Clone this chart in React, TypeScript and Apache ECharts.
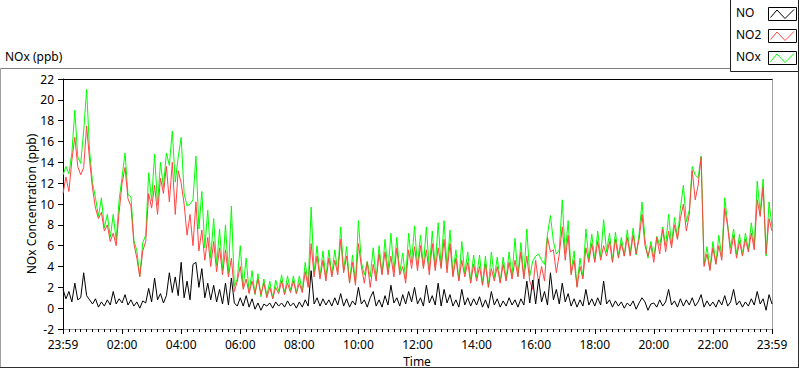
import React, { useEffect, useRef } from "react";
import * as echarts from "echarts";

// Sample step in minutes from the 23:59 start
const STEP_MIN = 6;

const xTickLabels = [
  "23:59", "02:00", "04:00", "06:00", "08:00", "10:00", "12:00",
  "14:00", "16:00", "18:00", "20:00", "22:00", "23:59",
];

const yTicks = { min: -2, max: 22, interval: 2 };

const seriesNames = ["NO", "NO2", "NOx"];

// NO2 (ppb), one value every 6 minutes
const NO2 = [
  11.0, 12.6, 11.2, 14.2, 16.4, 13.6, 12.8, 13.5, 17.5, 14.2,
  11.5, 9.6, 8.6, 9.2, 7.4, 8.0, 6.4, 7.2, 6.0, 9.2,
  12.0, 13.5, 10.5, 9.8, 6.2, 4.8, 3.0, 5.5, 6.4, 11.0,
  9.6, 11.8, 9.0, 12.5, 11.0, 13.6, 10.2, 14.0, 9.0, 13.2,
  12.0, 10.0, 7.0, 9.0, 6.0, 10.2, 5.5, 7.5, 4.6, 6.8,
  4.0, 6.4, 3.5, 5.8, 3.2, 5.6, 3.0, 4.8, 1.6, 2.6,
  4.0, 1.8, 2.8, 1.4, 2.6, 1.4, 2.8, 1.3, 2.4, 1.0,
  2.0, 0.9, 2.0, 1.4, 2.6, 1.3, 2.4, 1.5, 2.6, 1.4,
  2.4, 1.5, 3.5, 2.0, 6.2, 3.0, 5.0, 2.8, 4.6, 2.6,
  4.8, 3.0, 4.6, 3.2, 6.6, 3.4, 5.0, 2.4, 4.4, 2.2,
  6.2, 4.0, 2.4, 4.4, 2.0, 4.2, 2.6, 5.2, 3.2, 5.4,
  3.2, 5.0, 3.0, 5.8, 3.2, 4.0, 2.4, 5.6, 3.8, 5.9,
  3.6, 6.0, 3.8, 5.6, 3.2, 6.2, 3.6, 5.8, 3.8, 6.6,
  3.4, 6.2, 3.0, 4.8, 2.6, 4.6, 3.0, 4.4, 2.4, 4.2,
  2.6, 4.0, 2.2, 4.2, 2.0, 3.8, 2.6, 4.0, 2.4, 4.2,
  2.6, 4.4, 2.8, 4.6, 3.0, 5.4, 2.8, 5.0, 2.6, 1.8,
  4.6, 2.4, 4.0, 2.6, 6.8, 5.4, 5.6, 3.4, 5.2, 7.8,
  4.6, 7.0, 3.2, 4.6, 2.0, 4.0, 2.8, 5.8, 4.4, 6.2,
  4.4, 6.4, 4.6, 6.0, 5.0, 6.4, 4.4, 6.6, 4.8, 6.2,
  5.0, 6.8, 5.0, 7.0, 5.2, 6.6, 9.0, 6.0, 5.0, 6.0,
  4.4, 6.8, 5.2, 7.6, 5.4, 7.4, 5.8, 8.0, 6.6, 8.6,
  10.0, 7.4, 9.0, 13.2, 10.4, 11.8, 14.5, 4.0, 5.2, 3.6,
  5.8, 4.2, 6.0, 4.6, 9.6, 7.8, 5.2, 7.0, 4.8, 6.4,
  5.0, 6.6, 5.4, 7.2, 5.6, 10.4, 8.8, 11.6, 5.2, 8.6,
  7.4,
];

// NO (ppb)
const NO = [
  1.8, 0.9, 1.6, 0.6, 2.4, 0.8, 1.0, 3.4, 1.2, 0.8,
  0.4, 0.9, 0.1, 0.6, 0.2, 0.8, 0.3, 1.6, 0.4, 0.9,
  0.5, 1.3, 0.3, 0.8, 0.2, 0.6, 0.0, 0.7, 0.5, 1.9,
  0.6, 2.9, 0.8, 1.4, 0.5, 1.2, 3.4, 1.5, 3.0, 1.2,
  4.4, 1.0, 2.6, 0.8, 4.2, 4.4, 2.0, 3.8, 1.0, 2.4,
  0.8, 2.2, 0.6, 1.8, 0.4, 2.4, 0.3, 2.9, 0.5, 0.2,
  1.0, 0.2, 1.2, 0.1, 0.9, -0.1, 0.5, -0.2, 0.4, 0.2,
  0.5, 0.0, 0.6, 0.2, 0.5, 0.1, 0.7, 0.2, 0.5, 0.0,
  0.6, 0.1, 0.8, 0.2, 3.6, 0.4, 1.0, 0.2, 0.9, 0.3,
  0.8, 0.2, 1.0, 0.3, 1.4, 0.2, 0.9, 0.1, 0.7, 0.3,
  2.0, 0.4, 0.8, 0.1, 1.0, 1.6, 0.2, 0.8, 0.1, 1.2,
  0.3, 2.2, 0.5, 1.0, 0.2, 1.3, 0.4, 1.6, 0.6, 2.0,
  0.4, 1.0, 0.2, 2.2, 0.5, 1.2, 0.3, 2.4, 0.2, 1.8,
  0.5, 1.3, 0.2, 0.8, 0.1, 1.8, 0.3, 1.0, 0.2, 0.9,
  0.3, 1.1, 0.1, 0.8, 0.0, 1.6, 0.3, 0.9, 0.1, 0.7,
  0.2, 1.0, 0.3, 0.8, 0.1, 0.9, 0.3, 2.6, 0.5, 2.7,
  0.4, 2.8, 0.6, 1.6, 0.3, 3.4, 0.8, 1.8, 0.4, 2.4,
  0.6, 1.4, 0.2, 0.9, 0.1, 0.8, 0.2, 1.8, 0.3, 0.9,
  0.2, 1.0, 0.3, 2.6, 0.4, 0.8, 0.1, 0.7, 0.2, 0.6,
  0.0, 0.5, 0.2, 0.7, -0.1, 0.5, 1.0, 0.6, -0.2, 0.4,
  0.5, 0.1, 0.8, 0.2, 0.6, 1.8, 0.3, 0.7, 0.1, 0.9,
  0.2, 0.8, 0.3, 1.0, 0.2, 0.6, 1.3, 0.1, 0.7, 0.2,
  0.6, 0.1, 0.8, 0.3, 1.2, 0.2, 0.6, 1.8, 0.3, 0.7,
  0.1, 0.6, 0.2, 0.9, 0.3, 1.6, 0.4, 0.9, -0.2, 1.3,
  0.4,
];

// NOx (ppb)
const NOX = [
  12.8, 13.6, 12.9, 14.9, 19.0, 14.5, 13.9, 17.0, 21.0, 15.1,
  12.0, 10.6, 8.8, 10.6, 7.7, 9.0, 6.8, 9.0, 6.5, 10.4,
  12.6, 14.9, 10.9, 10.7, 6.5, 5.5, 3.1, 6.3, 7.0, 13.0,
  10.3, 14.8, 9.9, 14.0, 11.6, 14.9, 13.7, 17.0, 12.1, 14.5,
  16.4, 11.0, 9.8, 10.0, 10.4, 14.6, 7.6, 11.2, 5.8, 9.4,
  4.8, 8.6, 4.1, 7.6, 3.6, 8.0, 3.3, 9.8, 2.1, 2.8,
  6.0, 2.0, 4.8, 1.5, 3.6, 1.3, 3.3, 1.1, 2.8, 1.2,
  2.6, 0.9, 2.7, 1.6, 3.2, 1.4, 3.1, 1.7, 3.1, 1.4,
  3.1, 1.6, 4.4, 2.2, 9.7, 3.4, 6.0, 3.0, 5.5, 2.9,
  5.6, 3.2, 5.6, 3.5, 7.8, 3.6, 5.9, 2.5, 5.1, 2.5,
  8.4, 4.4, 3.2, 4.5, 3.0, 5.8, 2.8, 6.0, 3.3, 6.6,
  3.5, 7.2, 3.5, 6.8, 3.4, 5.3, 2.8, 7.2, 4.4, 7.9,
  4.0, 7.0, 4.0, 7.8, 3.7, 7.4, 3.9, 8.2, 4.0, 8.4,
  3.9, 7.5, 3.2, 5.6, 2.7, 6.4, 3.3, 5.4, 2.6, 5.1,
  2.9, 5.1, 2.3, 5.0, 2.0, 5.4, 2.9, 4.9, 2.5, 4.9,
  2.8, 5.4, 3.1, 6.7, 3.1, 6.3, 3.1, 7.6, 3.1, 4.5,
  5.0, 5.2, 4.6, 4.2, 7.1, 8.9, 6.4, 5.2, 5.6, 10.4,
  5.2, 8.4, 3.4, 5.5, 2.1, 4.8, 3.0, 7.6, 4.7, 7.1,
  4.6, 7.4, 4.9, 8.5, 5.4, 7.2, 4.5, 7.3, 5.0, 6.8,
  5.0, 7.5, 5.2, 7.7, 5.1, 7.1, 10.2, 6.6, 4.8, 6.4,
  4.9, 6.9, 6.0, 7.8, 6.0, 9.0, 6.1, 8.7, 6.7, 9.6,
  11.8, 8.3, 9.4, 13.6, 12.8, 12.5, 14.6, 4.2, 5.9, 3.8,
  6.4, 4.3, 7.0, 4.9, 10.6, 8.0, 5.8, 7.6, 5.1, 7.1,
  5.1, 7.2, 5.6, 8.2, 5.9, 12.2, 9.2, 12.4, 5.0, 10.2,
  7.8,
];

const COLORS = { NO: "#000000", NO2: "#ff4444", NOx: "#00ff00" };
const FONT = "'Noto Sans', 'Open Sans', sans-serif";

const GRID = { left: 63, top: 79, right: 28, bottom: 40 };

function toPairs(arr: number[]) {
  return arr.map((v, i) => [i * STEP_MIN, v]);
}

export default function App() {
  const ref = useRef<HTMLDivElement>(null);

  useEffect(() => {
    if (!ref.current) return;
    const chart = echarts.init(ref.current, undefined, { renderer: "svg" });

    const legendItems = [
      { name: seriesNames[0], color: COLORS.NO },
      { name: seriesNames[1], color: COLORS.NO2 },
      { name: seriesNames[2], color: COLORS.NOx },
    ];
    const legendGraphics: any[] = [];
    legendItems.forEach((it, i) => {
      const by = 7.5 + i * 22;
      legendGraphics.push({
        type: "text",
        left: 736,
        top: by - 1,
        style: { text: it.name, fill: "#000", font: `12px ${FONT}` },
      });
      legendGraphics.push({
        type: "rect",
        shape: { x: 768.5, y: by, width: 28, height: 13 },
        style: { fill: "#fff", stroke: "#000", lineWidth: 1 },
      });
      legendGraphics.push({
        type: "polyline",
        shape: {
          points: [
            [770.5, by + 10],
            [777, by + 2.5],
            [785, by + 11],
            [794, by + 2],
          ],
        },
        style: { stroke: it.color, lineWidth: 1, fill: "none" },
      });
    });

    const option: any = {
      animation: false,
      backgroundColor: "#ffffff",
      textStyle: { fontFamily: FONT },
      grid: {
        left: GRID.left,
        top: GRID.top,
        right: GRID.right,
        bottom: GRID.bottom,
        containLabel: false,
        outerBoundsMode: "none",
      },
      xAxis: [
        {
          type: "value",
          min: 0,
          max: 1440,
          interval: 120,
          axisLine: { show: true, onZero: false, lineStyle: { color: "#a0a0a0", width: 1 } },
          axisTick: { show: true, inside: false, length: 5, lineStyle: { color: "#000" } },
          minorTick: { show: true, splitNumber: 10, length: 3, lineStyle: { color: "#000" } },
          axisLabel: {
            color: "#000",
            fontSize: 12,
            fontFamily: FONT,
            margin: 9,
            showMinLabel: true,
            showMaxLabel: true,
            formatter: (v: number) => xTickLabels[Math.round(v / 120)] ?? "",
          },
          splitLine: { show: false },
          minorSplitLine: { show: false },
        },
        {
          type: "value",
          position: "top",
          min: 0,
          max: 1440,
          axisLine: { show: true, onZero: false, lineStyle: { color: "#000", width: 1 } },
          axisTick: { show: false },
          axisLabel: { show: false },
          splitLine: { show: false },
        },
      ],
      yAxis: [
        {
          type: "value",
          min: yTicks.min,
          max: yTicks.max,
          interval: yTicks.interval,
          axisLine: { show: true, onZero: false, lineStyle: { color: "#000", width: 1 } },
          axisTick: { show: true, inside: false, length: 5, lineStyle: { color: "#000" } },
          axisLabel: { color: "#000", fontSize: 12, fontFamily: FONT, margin: 9 },
          splitLine: { show: false },
        },
        {
          type: "value",
          position: "right",
          min: yTicks.min,
          max: yTicks.max,
          axisLine: { show: true, onZero: false, lineStyle: { color: "#a0a0a0", width: 1 } },
          axisTick: { show: false },
          axisLabel: { show: false },
          splitLine: { show: false },
        },
      ],
      series: [
        {
          name: seriesNames[2],
          type: "line",
          data: toPairs(NOX),
          showSymbol: false,
          symbol: "none",
          lineStyle: { color: COLORS.NOx, width: 1 },
          itemStyle: { color: COLORS.NOx },
          z: 2,
        },
        {
          name: seriesNames[1],
          type: "line",
          data: toPairs(NO2),
          showSymbol: false,
          symbol: "none",
          lineStyle: { color: COLORS.NO2, width: 1 },
          itemStyle: { color: COLORS.NO2 },
          z: 3,
        },
        {
          name: seriesNames[0],
          type: "line",
          data: toPairs(NO),
          showSymbol: false,
          symbol: "none",
          lineStyle: { color: COLORS.NO, width: 1 },
          itemStyle: { color: COLORS.NO },
          z: 4,
        },
      ],
      graphic: [
        // outer panel frame
        { type: "line", shape: { x1: 0.5, y1: 68.5, x2: 730, y2: 68.5 }, style: { stroke: "#808080", lineWidth: 1 } },
        { type: "line", shape: { x1: 0.5, y1: 68.5, x2: 0.5, y2: 367.5 }, style: { stroke: "#a0a0a0", lineWidth: 1 } },
        { type: "line", shape: { x1: 0, y1: 367.5, x2: 799, y2: 367.5 }, style: { stroke: "#303030", lineWidth: 1 } },
        { type: "line", shape: { x1: 798.5, y1: 71, x2: 798.5, y2: 368 }, style: { stroke: "#303030", lineWidth: 1 } },
        // legend box
        {
          type: "rect",
          shape: { x: 730.5, y: -1, width: 68, height: 72.5 },
          style: { fill: "#fff", stroke: "#202020", lineWidth: 1 },
        },
        ...legendGraphics,
        // titles
        {
          type: "text",
          left: 5,
          top: 50,
          style: { text: "NOx (ppb)", fill: "#000", font: `12px ${FONT}` },
        },
        {
          type: "text",
          x: 31,
          y: 204,
          rotation: Math.PI / 2,
          style: {
            text: "NOx Concentration (ppb)",
            fill: "#000",
            font: `12px ${FONT}`,
            align: "center",
            verticalAlign: "middle",
          },
        },
        {
          type: "text",
          x: 417,
          y: 361,
          style: {
            text: "Time",
            fill: "#000",
            font: `12px ${FONT}`,
            align: "center",
            verticalAlign: "middle",
          },
        },
      ],
    };

    chart.setOption(option);
    return () => {
      chart.dispose();
    };
  }, []);

  return (
    <div
      ref={ref}
      style={{
        position: "fixed",
        left: 0,
        top: 0,
        width: 800,
        height: 369,
        background: "#fff",
      }}
    />
  );
}
